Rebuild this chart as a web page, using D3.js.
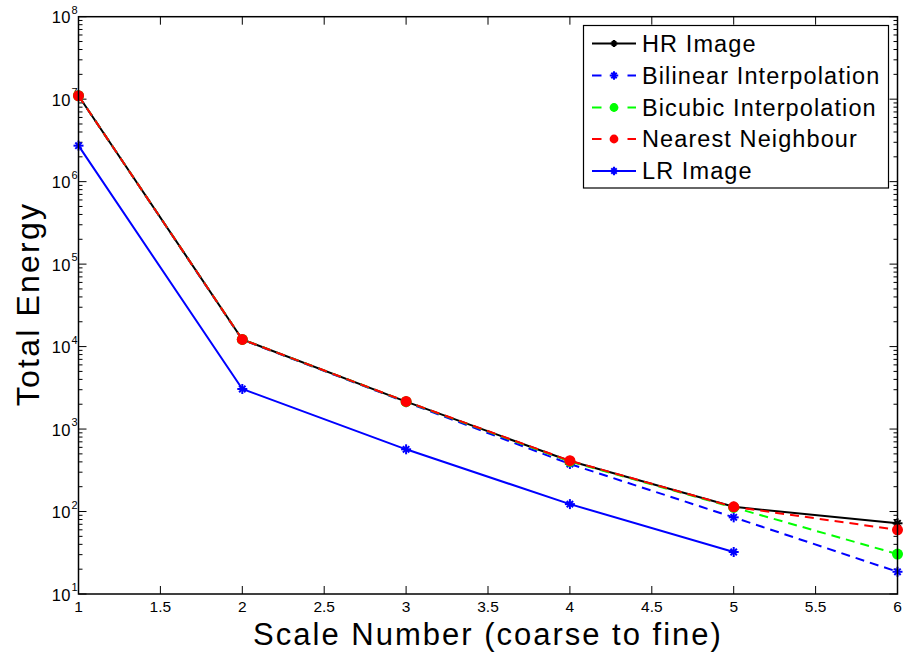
<!DOCTYPE html>
<html><head><meta charset="utf-8">
<script src="https://cdn.jsdelivr.net/npm/d3@7"></script>
<style>body{margin:0;background:#fff}text{font-family:"Liberation Sans",Arial,sans-serif}</style>
</head><body>
<svg id="c" width="904" height="653"></svg>
<script>
const scales = [1, 2, 3, 4, 5, 6];
const hrImage = [1.1e7, 1.22e4, 2150, 410, 114, 72];
const bilinear = [1.1e7, 1.21e4, 2120, 377, 85, 18.6];
const bicubic = [1.1e7, 1.22e4, 2150, 405, 112, 30.5];
const nearest = [1.1e7, 1.22e4, 2160, 413, 114, 60];
const lrScales = [1, 2, 3, 4, 5];
const lrImage = [2.73e6, 3060, 568, 123, 32.3];
const xTicks = [1, 1.5, 2, 2.5, 3, 3.5, 4, 4.5, 5, 5.5, 6];
const yDecades = [1, 2, 3, 4, 5, 6, 7, 8];
const seriesNames = ["HR Image", "Bilinear Interpolation", "Bicubic Interpolation", "Nearest Neighbour", "LR Image"];

const svg = d3.select("#c");
const L = 78.5, R = 897.5, T = 16.7, B = 594;
const x = d3.scaleLinear().domain([1, 6]).range([L, R]);
const y = d3.scaleLog().domain([10, 1e8]).range([B, T]);

const series = [
  {name: seriesNames[0], xs: scales, v: hrImage, color: "#000", dash: null, mark: "star"},
  {name: seriesNames[1], xs: scales, v: bilinear, color: "#0000ff", dash: "9,6", mark: "star"},
  {name: seriesNames[2], xs: scales, v: bicubic, color: "#00ff00", dash: "9,6", mark: "dot"},
  {name: seriesNames[3], xs: scales, v: nearest, color: "#ff0000", dash: "9,6", mark: "dot"},
  {name: seriesNames[4], xs: lrScales, v: lrImage, color: "#0000ff", dash: null, mark: "star"}
];

function drawMarker(g, cx, cy, s, type, scale) {
  scale = scale || 1;
  const r = 5 * scale;
  if (type === "dot") {
    g.append("circle").attr("cx", cx).attr("cy", cy).attr("r", 5.5 * scale).attr("fill", s.color);
  }
  const w = type === "dot" ? 1.5 : 2;
  [0, 45, 90, 135].forEach(a => {
    const rad = a * Math.PI / 180;
    const rr = (a % 90 === 0) ? r : r * 0.9;
    const dx = Math.cos(rad) * rr, dy = Math.sin(rad) * rr;
    g.append("line").attr("x1", cx - dx).attr("y1", cy - dy).attr("x2", cx + dx).attr("y2", cy + dy)
      .attr("stroke", s.color).attr("stroke-width", w);
  });
}

const ax = svg.append("g");

// x ticks
xTicks.forEach(t => {
  const px = x(t);
  ax.append("line").attr("x1", px).attr("x2", px).attr("y1", B).attr("y2", B - 8).attr("stroke", "#000").attr("stroke-width", 1);
  ax.append("line").attr("x1", px).attr("x2", px).attr("y1", T).attr("y2", T + 8).attr("stroke", "#000").attr("stroke-width", 1);
  ax.append("text").attr("x", px).attr("y", 612).attr("text-anchor", "middle").attr("font-size", 15.5).text(d3.format("")(t));
});

// y ticks
yDecades.forEach(d => {
  const py = y(Math.pow(10, d));
  ax.append("line").attr("x1", L).attr("x2", L + 8).attr("y1", py).attr("y2", py).attr("stroke", "#000");
  ax.append("line").attr("x1", R).attr("x2", R - 8).attr("y1", py).attr("y2", py).attr("stroke", "#000");
  if (d < 8) {
    for (let m = 2; m <= 9; m++) {
      const pm = y(m * Math.pow(10, d));
      ax.append("line").attr("x1", L).attr("x2", L + 4).attr("y1", pm).attr("y2", pm).attr("stroke", "#000");
      ax.append("line").attr("x1", R).attr("x2", R - 4).attr("y1", pm).attr("y2", pm).attr("stroke", "#000");
    }
  }
  ax.append("text").attr("x", 71).attr("y", py + 6.5).attr("text-anchor", "end").attr("font-size", 16.5)
    .attr("letter-spacing", 0.5).text("10");
  ax.append("text").attr("x", 71.5).attr("y", py - 3).attr("font-size", 11).text(d);
});

// lines
const line = d3.line().x(d => x(d[0])).y(d => y(d[1]));
const plot = svg.append("g");
series.forEach(s => {
  const pts = s.xs.map((xx, i) => [xx, s.v[i]]);
  plot.append("path").attr("d", line(pts)).attr("fill", "none").attr("stroke", s.color)
    .attr("stroke-width", 2).attr("stroke-dasharray", s.dash);
  const mg = plot.append("g");
  pts.forEach(p => drawMarker(mg, x(p[0]), y(p[1]), s, s.mark));
});

// frame on top
svg.append("rect").attr("x", L).attr("y", T).attr("width", R - L).attr("height", B - T)
  .attr("fill", "none").attr("stroke", "#000").attr("stroke-width", 1.5);

// legend
const lg = svg.append("g");
lg.append("rect").attr("x", 583.5).attr("y", 25.5).attr("width", 305).attr("height", 162.5)
  .attr("fill", "#fff").attr("stroke", "#000").attr("stroke-width", 1.2);
const rows = [43.5, 75.5, 107.5, 139, 171];
series.forEach((s, i) => {
  const ry = rows[i];
  if (s.dash) {
    lg.append("line").attr("x1", 592).attr("x2", 601.5).attr("y1", ry).attr("y2", ry)
      .attr("stroke", s.color).attr("stroke-width", 2);
    lg.append("line").attr("x1", 627.5).attr("x2", 636).attr("y1", ry).attr("y2", ry)
      .attr("stroke", s.color).attr("stroke-width", 2);
  } else {
    lg.append("line").attr("x1", 592).attr("x2", 636).attr("y1", ry).attr("y2", ry)
      .attr("stroke", s.color).attr("stroke-width", 2);
  }
  drawMarker(lg, 614, ry, s, s.mark, s.mark === "dot" ? 0.8 : (i === 0 ? 0.7 : 0.85));
  lg.append("text").attr("x", 642).attr("y", ry + 8).attr("font-size", 23.5).attr("letter-spacing", 1.1).text(s.name);
});

// axis titles
svg.append("text").attr("x", 488).attr("y", 645).attr("text-anchor", "middle").attr("font-size", 31)
  .attr("letter-spacing", 2.0).text("Scale Number (coarse to fine)");
svg.append("text").attr("transform", "translate(39,304) rotate(-90)").attr("text-anchor", "middle")
  .attr("font-size", 32).attr("letter-spacing", 2.2).text("Total Energy");
</script>
</body></html>
